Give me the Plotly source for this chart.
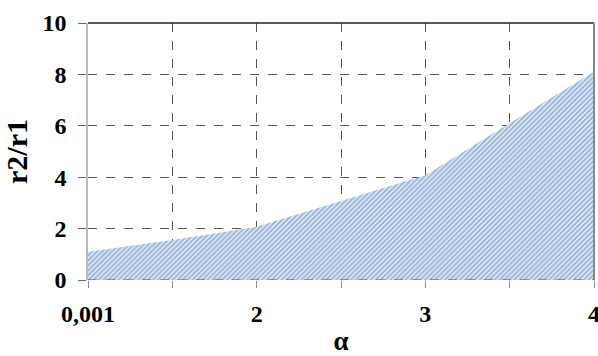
import plotly.graph_objects as go

categories = ["0,001", "1", "2", "2,5", "3", "3,5", "4"]
tick_labels = ["0,001", "", "2", "", "3", "", "4"]
ratio_values = [1.10, 1.56, 2.07, 3.09, 4.08, 6.10, 8.10]
y_ticks = [0, 2, 4, 6, 8, 10]

FONT = "'Liberation Serif', 'Times New Roman', Times, serif"

fig = go.Figure()
fig.add_trace(go.Scatter(
    x=list(range(len(categories))),
    y=ratio_values,
    mode="lines",
    line=dict(width=0, color="#4f81bd"),
    fill="tozeroy",
    fillcolor="rgba(0,0,0,0)",
    fillpattern=dict(shape="/", fgcolor="#3d70b8", bgcolor="white", size=3.5, solidity=0.7),
    showlegend=False,
    hoverinfo="skip",
))

fig.update_layout(
    width=598, height=356,
    margin=dict(l=88, r=4, t=23, b=76, autoexpand=False),
    paper_bgcolor="white", plot_bgcolor="white",
    font=dict(family=FONT, size=24, color="black", weight="bold"),
    xaxis=dict(
        range=[0, len(categories) - 1],
        tickvals=list(range(len(categories))),
        ticktext=tick_labels,
        automargin=False,
        showgrid=True, gridcolor="#555555", griddash="dash", gridwidth=1,
        showline=False, zeroline=False,
        ticks="outside", ticklen=7, tickcolor="#888888",
        ticklabeloverflow="allow", ticklabelstandoff=5,
        tickfont=dict(family=FONT, size=24, weight="bold"),
        title=dict(text="α", font=dict(family=FONT, size=27, weight="bold"), standoff=18),
        layer="above traces",
    ),
    yaxis=dict(
        range=[0, 10],
        tickvals=y_ticks,
        automargin=False,
        showgrid=True, gridcolor="#555555", griddash="dash", gridwidth=1,
        zeroline=False,
        showline=True, linecolor="#bbbbbb", linewidth=1.5,
        ticks="outside", ticklen=8, tickcolor="#666666",
        ticklabelstandoff=7,
        tickfont=dict(family=FONT, size=24, weight="bold"),
        title=dict(text="r2/r1", font=dict(family=FONT, size=30, weight="bold"), standoff=10),
        layer="above traces",
    ),
    shapes=[
        dict(type="line", xref="paper", yref="paper", x0=0, x1=1, y0=1, y1=1,
             line=dict(color="#222222", width=1.5)),
        dict(type="line", xref="paper", yref="paper", x0=1, x1=1, y0=0, y1=1,
             line=dict(color="#888888", width=2)),
        dict(type="line", xref="paper", yref="y", x0=0, x1=1, y0=0, y1=0,
             line=dict(color="#555555", width=1, dash="dash")),
    ],
)

fig.write_html(
    "out.html",
    config={"displayModeBar": False},
    post_script="document.body.style.margin='0';document.body.style.overflow='hidden';",
)
